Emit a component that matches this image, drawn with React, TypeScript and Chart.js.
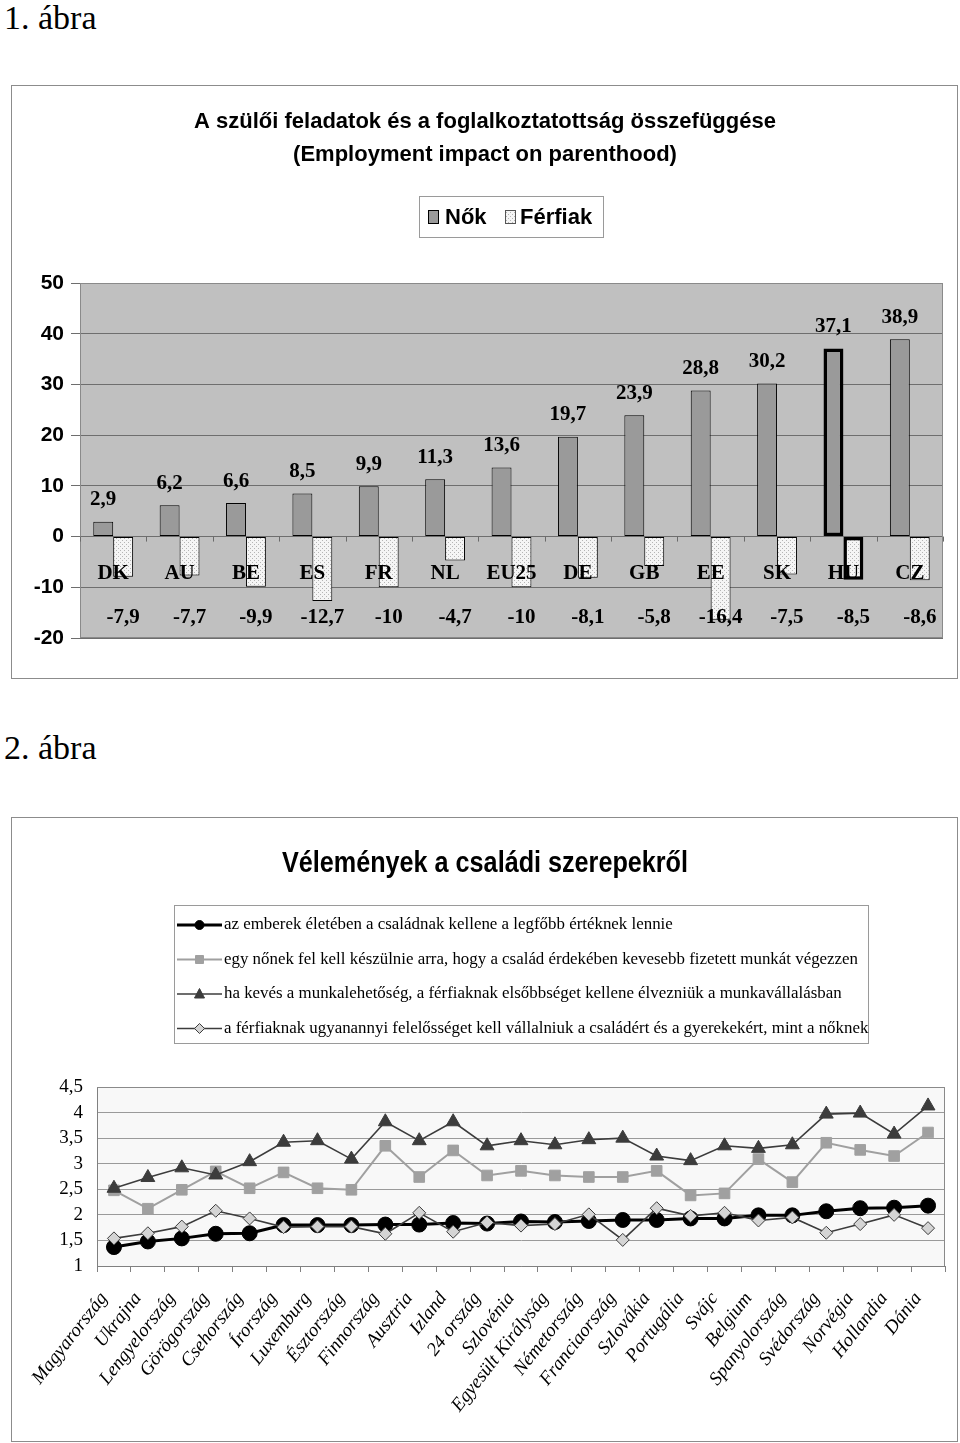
import React, { useEffect, useRef } from 'react';
import { Chart, registerables } from 'chart.js';

Chart.register(...registerables);

// ---------- Figure 1 data ----------
const countries1 = ['DK', 'AU', 'BE', 'ES', 'FR', 'NL', 'EU25', 'DE', 'GB', 'EE', 'SK', 'HU', 'CZ'];
const womenValues = [2.9, 6.2, 6.6, 8.5, 9.9, 11.3, 13.6, 19.7, 23.9, 28.8, 30.2, 37.1, 38.9];
const menValues = [-7.9, -7.7, -9.9, -12.7, -10, -4.7, -10, -8.1, -5.8, -16.4, -7.5, -8.5, -8.6];
const highlightCountry = 'HU';
const legend1 = ['Nők', 'Férfiak'];
const title1 = ['A szülői feladatok és a foglalkoztatottság összefüggése', '(Employment impact on parenthood)'];
const yMin1 = -20;
const yMax1 = 50;
const yStep1 = 10;

// ---------- Figure 2 data ----------
const countries2 = [
  'Magyarország', 'Ukrajna', 'Lengyelország', 'Görögország', 'Csehország', 'Írország', 'Luxemburg',
  'Észtország', 'Finnország', 'Ausztria', 'Izland', '24 ország', 'Szlovénia', 'Egyesült Királyság',
  'Németország', 'Franciaország', 'Szlovákia', 'Portugália', 'Svájc', 'Belgium', 'Spanyolország',
  'Svédország', 'Norvégia', 'Hollandia', 'Dánia',
];
const familyValues = [1.37, 1.48, 1.54, 1.63, 1.64, 1.8, 1.8, 1.8, 1.81, 1.81, 1.84, 1.83, 1.87, 1.86, 1.88, 1.9, 1.9, 1.93, 1.93, 1.99, 1.99, 2.07, 2.13, 2.14, 2.18];
const womanLessWorkValues = [2.48, 2.12, 2.49, 2.85, 2.52, 2.83, 2.52, 2.49, 3.35, 2.74, 3.26, 2.77, 2.86, 2.77, 2.74, 2.74, 2.86, 2.38, 2.42, 3.09, 2.64, 3.41, 3.27, 3.15, 3.61];
const menPriorityValues = [2.52, 2.73, 2.92, 2.78, 3.04, 3.42, 3.45, 3.09, 3.82, 3.45, 3.82, 3.35, 3.45, 3.37, 3.47, 3.5, 3.15, 3.06, 3.35, 3.3, 3.37, 3.97, 3.99, 3.58, 4.13];
const equalResponsibilityValues = [1.54, 1.64, 1.77, 2.08, 1.93, 1.76, 1.77, 1.77, 1.63, 2.04, 1.67, 1.85, 1.79, 1.82, 2.01, 1.51, 2.13, 1.98, 2.04, 1.89, 1.95, 1.65, 1.82, 2.0, 1.74];
const seriesNames2 = [
  'az emberek életében a családnak kellene a legfőbb értéknek lennie',
  'egy nőnek fel kell készülnie arra, hogy a család érdekében kevesebb fizetett munkát végezzen',
  'ha kevés a munkalehetőség, a férfiaknak elsőbbséget kellene élvezniük a munkavállalásban',
  'a férfiaknak ugyanannyi felelősséget kell vállalniuk a családért és a gyerekekért, mint a nőknek',
];
const title2 = 'Vélemények a családi szerepekről';
const yMin2 = 1;
const yMax2 = 4.5;
const yStep2 = 0.5;

const SERIF = '"Liberation Serif", "Times New Roman", Times, serif';
const SANS = '"Liberation Sans", Arial, Helvetica, sans-serif';

const fmt = (v: number) => String(v).replace('.', ',');

function BarFigure() {
  const ref = useRef<HTMLCanvasElement>(null);
  useEffect(() => {
    const canvas = ref.current!;
    const pc = document.createElement('canvas');
    pc.width = 4;
    pc.height = 4;
    const pctx = pc.getContext('2d')!;
    pctx.fillStyle = '#f5f5f5';
    pctx.fillRect(0, 0, 4, 4);
    pctx.fillStyle = '#b5b5b5';
    pctx.fillRect(0, 0, 1, 1);
    pctx.fillRect(2, 2, 1, 1);
    const pattern = canvas.getContext('2d')!.createPattern(pc, 'repeat')!;
    const hi = countries1.indexOf(highlightCountry);
    const bw = countries1.map((_, i) => (i === hi ? 3.5 : 1));

    const deco = {
      id: 'barDeco',
      beforeDraw(chart: any) {
        const { ctx, chartArea: a } = chart;
        ctx.save();
        ctx.fillStyle = '#c0c0c0';
        ctx.fillRect(a.left, a.top, a.right - a.left, a.bottom - a.top);
        ctx.restore();
      },
      afterDraw(chart: any) {
        const { ctx, chartArea: a, scales } = chart;
        const xs = scales.x;
        const ys = scales.y;
        const y0 = ys.getPixelForValue(0);
        ctx.save();
        ctx.strokeStyle = '#8a8a8a';
        ctx.lineWidth = 1;
        ctx.strokeRect(a.left + 0.5, a.top + 0.5, a.right - a.left - 1, a.bottom - a.top - 1);
        const n = countries1.length;
        const cw = (a.right - a.left) / n;
        ctx.strokeStyle = '#6a6a6a';
        ctx.beginPath();
        for (let k = 0; k <= n; k++) {
          const px = Math.round(a.left + k * cw) + 0.5;
          ctx.moveTo(px, y0);
          ctx.lineTo(px, y0 + 5);
        }
        ctx.stroke();

        ctx.fillStyle = '#000';
        ctx.textAlign = 'center';
        ctx.textBaseline = 'middle';
        ctx.font = `bold 21px ${SERIF}`;
        countries1.forEach((c, i) => {
          ctx.fillText(c, xs.getPixelForValue(i), y0 + 37);
        });
        const m0 = chart.getDatasetMeta(0).data;
        const m1 = chart.getDatasetMeta(1).data;
        womenValues.forEach((v, i) => {
          ctx.fillText(fmt(v), m0[i].x, m0[i].y - 22);
        });
        const yNeg = ys.getPixelForValue(-16);
        menValues.forEach((v, i) => {
          ctx.fillText(fmt(v), m1[i].x, yNeg);
        });

        // titles
        ctx.font = `bold 22px ${SANS}`;
        ctx.fillText(title1[0], 473, 36);
        ctx.fillText(title1[1], 473, 69);

        // legend box
        ctx.strokeStyle = '#9a9a9a';
        ctx.strokeRect(407.5, 110.5, 184, 41);
        ctx.fillStyle = '#9a9a9a';
        ctx.fillRect(416, 124, 11, 14);
        ctx.strokeStyle = '#000';
        ctx.strokeRect(416.5, 124.5, 10, 13);
        ctx.fillStyle = pattern;
        ctx.fillRect(493, 124, 11, 14);
        ctx.strokeStyle = '#555';
        ctx.strokeRect(493.5, 124.5, 10, 13);
        ctx.fillStyle = '#000';
        ctx.textAlign = 'left';
        ctx.font = `bold 22px ${SANS}`;
        ctx.fillText(legend1[0], 433, 132);
        ctx.fillText(legend1[1], 508, 132);
        ctx.restore();
      },
    };

    const chart = new Chart(canvas, {
      type: 'bar',
      data: {
        labels: countries1,
        datasets: [
          {
            label: legend1[0],
            data: womenValues,
            backgroundColor: '#9a9a9a',
            borderColor: '#000',
            borderWidth: bw,
            borderSkipped: false,
            categoryPercentage: 0.6,
            barPercentage: 1,
          },
          {
            label: legend1[1],
            data: menValues,
            backgroundColor: pattern as any,
            borderColor: '#000',
            borderWidth: bw,
            borderSkipped: false,
            categoryPercentage: 0.6,
            barPercentage: 1,
          },
        ],
      },
      options: {
        responsive: false,
        animation: false,
        layout: { padding: { top: 197, right: 14, bottom: 40, left: 0 } },
        plugins: { legend: { display: false }, tooltip: { enabled: false } },
        scales: {
          x: { display: false },
          y: {
            min: yMin1,
            max: yMax1,
            ticks: {
              stepSize: yStep1,
              color: '#000',
              padding: 7,
              font: { family: SANS, size: 21, weight: 'bold' },
            },
            grid: { color: '#6e6e6e', tickLength: 9, tickColor: '#6e6e6e' },
            border: { color: '#6e6e6e' },
            afterFit: (s: any) => {
              s.width = 68;
            },
          },
        },
      } as any,
      plugins: [deco],
    });
    return () => chart.destroy();
  }, []);
  return <canvas ref={ref} width={945} height={592} style={{ display: 'block' }} />;
}

function drawMarker(ctx: CanvasRenderingContext2D, kind: string, x: number, y: number, r: number) {
  ctx.beginPath();
  if (kind === 'circle') {
    ctx.arc(x, y, r, 0, Math.PI * 2);
  } else if (kind === 'rect') {
    ctx.rect(x - r, y - r, 2 * r, 2 * r);
  } else if (kind === 'triangle') {
    ctx.moveTo(x, y - r * 1.1);
    ctx.lineTo(x + r, y + r * 0.8);
    ctx.lineTo(x - r, y + r * 0.8);
    ctx.closePath();
  } else {
    ctx.moveTo(x, y - r);
    ctx.lineTo(x + r, y);
    ctx.lineTo(x, y + r);
    ctx.lineTo(x - r, y);
    ctx.closePath();
  }
}

const lineStyles = [
  { color: '#000000', width: 3, point: 'circle', fill: '#000000', stroke: '#000000', radius: 7.5, lr: 4.5 },
  { color: '#a0a0a0', width: 2, point: 'rect', fill: '#a0a0a0', stroke: '#a0a0a0', radius: 7.5, lr: 4 },
  { color: '#3c3c3c', width: 1.6, point: 'triangle', fill: '#3c3c3c', stroke: '#3c3c3c', radius: 8, lr: 5 },
  { color: '#3c3c3c', width: 1.6, point: 'rectRot', fill: '#d4d4d4', stroke: '#3c3c3c', radius: 6.5, lr: 5 },
];

function LineFigure() {
  const ref = useRef<HTMLCanvasElement>(null);
  useEffect(() => {
    const canvas = ref.current!;
    const seriesData = [familyValues, womanLessWorkValues, menPriorityValues, equalResponsibilityValues];
    const orders = [1, 3, 2, 0];

    const deco = {
      id: 'lineDeco',
      beforeDraw(chart: any) {
        const { ctx, chartArea: a } = chart;
        ctx.save();
        ctx.fillStyle = '#f8f8f8';
        ctx.fillRect(a.left, a.top, a.right - a.left, a.bottom - a.top);
        ctx.restore();
      },
      afterDraw(chart: any) {
        const { ctx, chartArea: a } = chart;
        ctx.save();
        ctx.strokeStyle = '#8a8a8a';
        ctx.lineWidth = 1;
        ctx.beginPath();
        ctx.moveTo(a.left, a.top + 0.5);
        ctx.lineTo(a.right - 0.5, a.top + 0.5);
        ctx.lineTo(a.right - 0.5, a.bottom);
        ctx.stroke();

        ctx.fillStyle = '#000';
        ctx.textAlign = 'center';
        ctx.textBaseline = 'middle';
        ctx.font = `bold 30px ${SANS}`;
        const w = ctx.measureText(title2).width;
        const sx = 406 / w;
        ctx.save();
        ctx.translate(473, 46);
        ctx.scale(sx, 1);
        ctx.fillText(title2, 0, 0);
        ctx.restore();

        // legend
        ctx.strokeStyle = '#9a9a9a';
        ctx.lineWidth = 1;
        ctx.strokeRect(162.5, 87.5, 694, 138);
        ctx.font = `16.9px ${SERIF}`;
        ctx.textAlign = 'left';
        seriesNames2.forEach((name, i) => {
          const st = lineStyles[i];
          const y = 107 + i * 34.5;
          ctx.strokeStyle = st.color;
          ctx.lineWidth = st.width;
          ctx.beginPath();
          ctx.moveTo(165, y);
          ctx.lineTo(210, y);
          ctx.stroke();
          drawMarker(ctx, st.point, 187.5, y, st.lr);
          ctx.fillStyle = st.fill;
          ctx.fill();
          ctx.lineWidth = 1;
          ctx.strokeStyle = st.stroke;
          ctx.stroke();
          ctx.fillStyle = '#000';
          ctx.fillText(name, 212, y);
        });
        ctx.restore();
      },
    };

    const chart = new Chart(canvas, {
      type: 'line',
      data: {
        labels: countries2,
        datasets: seriesData.map((d, i) => {
          const st = lineStyles[i];
          return {
            label: seriesNames2[i],
            data: d,
            borderColor: st.color,
            backgroundColor: st.fill,
            borderWidth: st.width,
            pointStyle: st.point,
            pointRadius: st.radius,
            pointBackgroundColor: st.fill,
            pointBorderColor: st.stroke,
            pointBorderWidth: 1,
            tension: 0,
            order: orders[i],
          };
        }),
      },
      options: {
        responsive: false,
        animation: false,
        layout: { padding: { top: 269, right: 12, bottom: 0, left: 0 } },
        plugins: { legend: { display: false }, tooltip: { enabled: false } },
        scales: {
          x: {
            offset: true,
            grid: { offset: true, drawOnChartArea: false, drawTicks: true, tickLength: 6, color: '#808080' },
            border: { color: '#808080' },
            ticks: {
              autoSkip: false,
              maxRotation: 52,
              minRotation: 52,
              color: '#000',
              padding: 16,
              labelOffset: -10,
              font: { family: SERIF, style: 'italic', size: 19 },
            },
            afterFit: (s: any) => {
              s.height = 175;
              s.paddingLeft = 0;
              s.paddingRight = 0;
            },
          },
          y: {
            min: yMin2,
            max: yMax2,
            ticks: {
              stepSize: yStep2,
              autoSkip: false,
              color: '#000',
              padding: 14,
              font: { family: SERIF, size: 19 },
              callback: (v: any) => fmt(Number(v)),
            },
            grid: { color: '#9a9a9a', drawTicks: false },
            border: { color: '#808080' },
            afterFit: (s: any) => {
              s.width = 85;
            },
          },
        },
      } as any,
      plugins: [deco],
    });
    return () => chart.destroy();
  }, []);
  return <canvas ref={ref} width={945} height={623} style={{ display: 'block' }} />;
}

const headingStyle: React.CSSProperties = {
  position: 'absolute',
  left: 4,
  fontFamily: SERIF,
  fontSize: 34,
  lineHeight: '34px',
  whiteSpace: 'nowrap',
  color: '#000',
};

export default function App() {
  return (
    <div style={{ position: 'absolute', left: 0, top: 0, width: 960, height: 1443, background: '#fff' }}>
      <div style={{ ...headingStyle, top: 1 }}>1. ábra</div>
      <div style={{ position: 'absolute', left: 11, top: 85, border: '1px solid #8c8c8c' }}>
        <BarFigure />
      </div>
      <div style={{ ...headingStyle, top: 731 }}>2. ábra</div>
      <div style={{ position: 'absolute', left: 11, top: 817, border: '1px solid #8c8c8c' }}>
        <LineFigure />
      </div>
    </div>
  );
}
